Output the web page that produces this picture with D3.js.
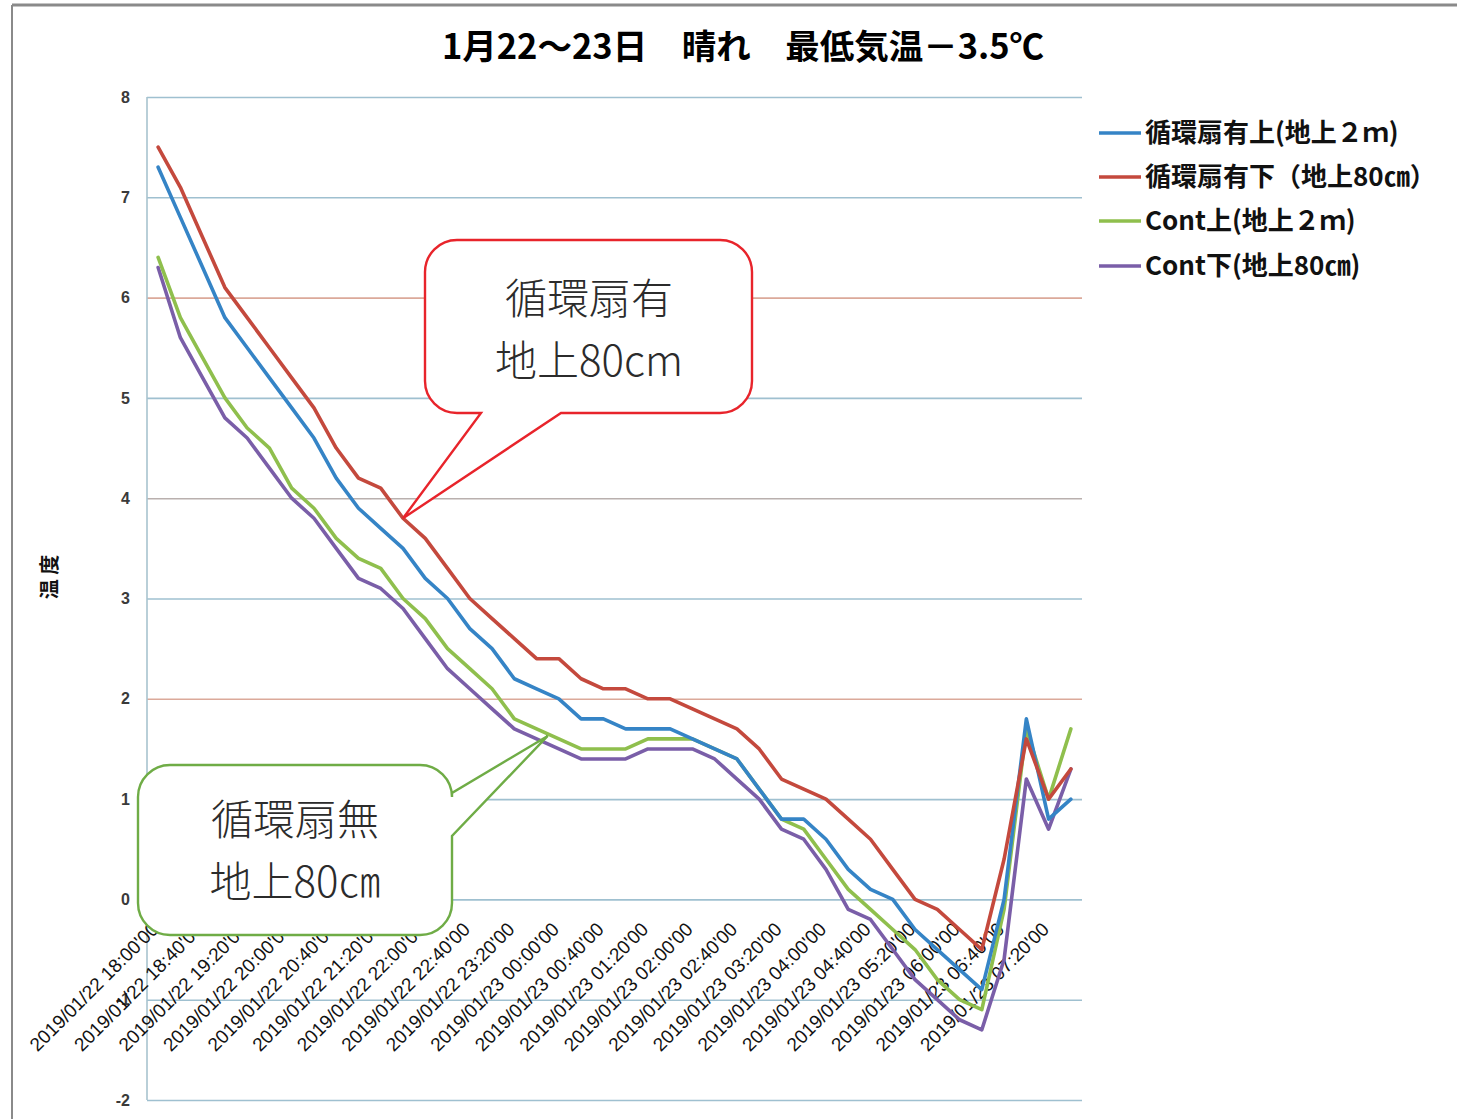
<!DOCTYPE html>
<html>
<head>
<meta charset="utf-8">
<script src="https://cdn.jsdelivr.net/npm/d3@7"></script>
<style>
  html, body { margin: 0; padding: 0; background: #ffffff; }
  svg { display: block; }
</style>
</head>
<body>
<svg id="chart" width="1457" height="1119"></svg>
<script>
// ---------------- data ----------------
const categories = [
  "2019/01/22 18:00'00","2019/01/22 18:20'00","2019/01/22 18:40'00","2019/01/22 19:00'00",
  "2019/01/22 19:20'00","2019/01/22 19:40'00","2019/01/22 20:00'00","2019/01/22 20:20'00",
  "2019/01/22 20:40'00","2019/01/22 21:00'00","2019/01/22 21:20'00","2019/01/22 21:40'00",
  "2019/01/22 22:00'00","2019/01/22 22:20'00","2019/01/22 22:40'00","2019/01/22 23:00'00",
  "2019/01/22 23:20'00","2019/01/22 23:40'00","2019/01/23 00:00'00","2019/01/23 00:20'00",
  "2019/01/23 00:40'00","2019/01/23 01:00'00","2019/01/23 01:20'00","2019/01/23 01:40'00",
  "2019/01/23 02:00'00","2019/01/23 02:20'00","2019/01/23 02:40'00","2019/01/23 03:00'00",
  "2019/01/23 03:20'00","2019/01/23 03:40'00","2019/01/23 04:00'00","2019/01/23 04:20'00",
  "2019/01/23 04:40'00","2019/01/23 05:00'00","2019/01/23 05:20'00","2019/01/23 05:40'00",
  "2019/01/23 06:00'00","2019/01/23 06:20'00","2019/01/23 06:40'00","2019/01/23 07:00'00",
  "2019/01/23 07:20'00","2019/01/23 07:40'00"
];
// labelled every second category
const tickLabels = categories.filter((c, i) => i % 2 === 0);

const fanTop2m = [7.3,6.8,6.3,5.8,5.5,5.2,4.9,4.6,4.2,3.9,3.7,3.5,3.2,3.0,2.7,2.5,2.2,2.1,2.0,1.8,1.8,1.7,1.7,1.7,1.6,1.5,1.4,1.1,0.8,0.8,0.6,0.3,0.1,0.0,-0.3,-0.5,-0.7,-0.9,0.0,1.8,0.8,1.0];
const fanLow80 = [7.5,7.1,6.6,6.1,5.8,5.5,5.2,4.9,4.5,4.2,4.1,3.8,3.6,3.3,3.0,2.8,2.6,2.4,2.4,2.2,2.1,2.1,2.0,2.0,1.9,1.8,1.7,1.5,1.2,1.1,1.0,0.8,0.6,0.3,0.0,-0.1,-0.3,-0.5,0.4,1.6,1.0,1.3];
const contTop2m = [6.4,5.8,5.4,5.0,4.7,4.5,4.1,3.9,3.6,3.4,3.3,3.0,2.8,2.5,2.3,2.1,1.8,1.7,1.6,1.5,1.5,1.5,1.6,1.6,1.6,1.5,1.4,1.1,0.8,0.7,0.4,0.1,-0.1,-0.3,-0.5,-0.8,-1.0,-1.1,-0.1,1.7,1.0,1.7];
const contLow80 = [6.3,5.6,5.2,4.8,4.6,4.3,4.0,3.8,3.5,3.2,3.1,2.9,2.6,2.3,2.1,1.9,1.7,1.6,1.5,1.4,1.4,1.4,1.5,1.5,1.5,1.4,1.2,1.0,0.7,0.6,0.3,-0.1,-0.2,-0.5,-0.8,-1.0,-1.2,-1.3,-0.6,1.2,0.7,1.3];

const seriesNames = ["循環扇有上(地上２ｍ)", "循環扇有下（地上80㎝）", "Cont上(地上２ｍ)", "Cont下(地上80㎝)"];
const seriesColors = ["#3584c6", "#c4493d", "#8fbf4d", "#7a5ea8"];
const yTicks = [-2,-1,0,1,2,3,4,5,6,7,8];
const gridColors = ["#9fc0d0","#9fc0d0","#9fc0d0","#9fc0d0","#dba99a","#9fc0d0","#b9b0ae","#9fc0d0","#dba99a","#9fc0d0","#9fc0d0"];

const titleText = "1月22～23日　晴れ　最低気温－3.5℃";
const yTitle = "温 度";
const calloutFan = ["循環扇有", "地上80cm"];
const calloutCont = ["循環扇無", "地上80㎝"];

// ---------------- layout ----------------
const svg = d3.select("#chart");
const L = 147, R = 1082, T = 97, B = 1100;

const x = d3.scalePoint().domain(categories).range([L, R]).padding(0.5);
const y = d3.scaleLinear().domain([-2, 8]).range([B, T]);

// frame of the scanned chart
svg.append("line").attr("x1", 12).attr("x2", 1457).attr("y1", 5).attr("y2", 5)
  .attr("stroke", "#8a8a8a").attr("stroke-width", 3);
svg.append("line").attr("x1", 12).attr("x2", 12).attr("y1", 5).attr("y2", 1119)
  .attr("stroke", "#8a8a8a").attr("stroke-width", 2);

// gridlines
const grid = svg.append("g").attr("transform", `translate(${L},0)`)
  .call(d3.axisLeft(y).tickValues(yTicks).tickSize(-(R - L)).tickFormat(""));
grid.select(".domain").remove();
grid.selectAll(".tick line")
  .attr("stroke", (d, i) => gridColors[i]).attr("stroke-width", 1.6);

// plot left border
svg.append("line").attr("x1", L).attr("x2", L).attr("y1", T).attr("y2", B)
  .attr("stroke", "#a8c3cf").attr("stroke-width", 1.6);

// y axis labels
const yAxis = svg.append("g").attr("transform", `translate(${L},0)`)
  .call(d3.axisLeft(y).tickValues(yTicks).tickSize(0).tickPadding(17).tickFormat(d => String(d)));
yAxis.select(".domain").remove();
yAxis.selectAll("text")
  .attr("font-family", "'Liberation Sans', Arial, sans-serif")
  .attr("font-size", 16).attr("font-weight", "bold").attr("fill", "#3a3a3a");

// y title
svg.append("text")
  .attr("transform", "translate(57,577) rotate(-90)")
  .attr("text-anchor", "middle")
  .attr("font-family", "'Noto Sans CJK JP', sans-serif")
  .attr("font-size", 20).attr("font-weight", "bold").attr("fill", "#111")
  .text(yTitle);

// x axis labels
const xAxis = svg.append("g").attr("transform", `translate(0,${y(0)})`)
  .call(d3.axisBottom(x).tickValues(tickLabels).tickSize(0));
xAxis.select(".domain").remove();
xAxis.selectAll("text")
  .attr("x", 0).attr("y", 0).attr("dy", 0)
  .attr("transform", "translate(1,31) rotate(-45)")
  .attr("text-anchor", "end")
  .attr("font-family", "'Liberation Sans', Arial, sans-serif")
  .attr("font-size", 19).attr("fill", "#111");

// lines
const seriesData = [fanTop2m, fanLow80, contTop2m, contLow80];
const line = d3.line().x((d, i) => x(categories[i])).y(d => y(d));
const drawOrder = [3, 2, 0, 1];
drawOrder.forEach(k => {
  svg.append("path").datum(seriesData[k])
    .attr("d", line)
    .attr("fill", "none")
    .attr("stroke", seriesColors[k])
    .attr("stroke-width", 3.6)
    .attr("stroke-linejoin", "round")
    .attr("stroke-linecap", "round");
});

// legend
const legend = svg.append("g");
const legY = [133, 177, 221, 266];
seriesNames.forEach((name, i) => {
  legend.append("line").attr("x1", 1099).attr("x2", 1141)
    .attr("y1", legY[i]).attr("y2", legY[i])
    .attr("stroke", seriesColors[i]).attr("stroke-width", 3.6);
  legend.append("text").attr("x", 1145).attr("y", legY[i] + 9)
    .attr("font-family", "'Noto Sans CJK JP', sans-serif")
    .attr("font-size", 26).attr("font-weight", "bold").attr("fill", "#111")
    .text(name);
});

// title
svg.append("text").attr("x", 743).attr("y", 59)
  .attr("text-anchor", "middle")
  .attr("font-family", "'Noto Sans CJK JP', sans-serif")
  .attr("font-size", 34.5).attr("font-weight", "bold").attr("fill", "#000")
  .text(titleText);

// callouts
function roundedCallout(box, r, tip, baseA, baseB, side) {
  const p = d3.path();
  const {x0, y0, x1, y1} = box;
  p.moveTo(x0 + r, y0);
  p.lineTo(x1 - r, y0);
  p.arcTo(x1, y0, x1, y0 + r, r);
  if (side === "right") {
    p.lineTo(x1, baseA); p.lineTo(tip[0], tip[1]); p.lineTo(x1, baseB);
  }
  p.lineTo(x1, y1 - r);
  p.arcTo(x1, y1, x1 - r, y1, r);
  if (side === "bottom") {
    p.lineTo(baseB, y1); p.lineTo(tip[0], tip[1]); p.lineTo(baseA, y1);
  }
  p.lineTo(x0 + r, y1);
  p.arcTo(x0, y1, x0, y1 - r, r);
  p.lineTo(x0, y0 + r);
  p.arcTo(x0, y0, x0 + r, y0, r);
  p.closePath();
  return p.toString();
}

function calloutText(lines, cx, y0, size, gap) {
  lines.forEach((s, i) => {
    svg.append("text")
      .attr("x", cx).attr("y", y0 + i * gap)
      .attr("text-anchor", "middle")
      .attr("font-family", "'Noto Sans CJK JP', sans-serif")
      .attr("font-size", size).attr("font-weight", 300).attr("fill", "#2b2b2b")
      .text(s);
  });
}

const redTip = [x(categories[11]), y(fanLow80[11])];
svg.append("path")
  .attr("d", roundedCallout({x0: 425, y0: 240, x1: 752, y1: 413}, 32, redTip, 481, 561, "bottom"))
  .attr("fill", "#fff").attr("stroke", "#e8242b").attr("stroke-width", 2.4);
calloutText(calloutFan, 589, 314, 42, 62);

const greenTip = [(x(categories[17]) + x(categories[18])) / 2, y((contTop2m[17] + contLow80[18]) / 2 + 0.03)];
svg.append("path")
  .attr("d", roundedCallout({x0: 138, y0: 765, x1: 452, y1: 935}, 32, greenTip, 793, 836, "right"))
  .attr("fill", "#fff").attr("stroke", "#6fac46").attr("stroke-width", 2.4);
calloutText(calloutCont, 295, 835, 42, 62);
</script>
</body>
</html>
